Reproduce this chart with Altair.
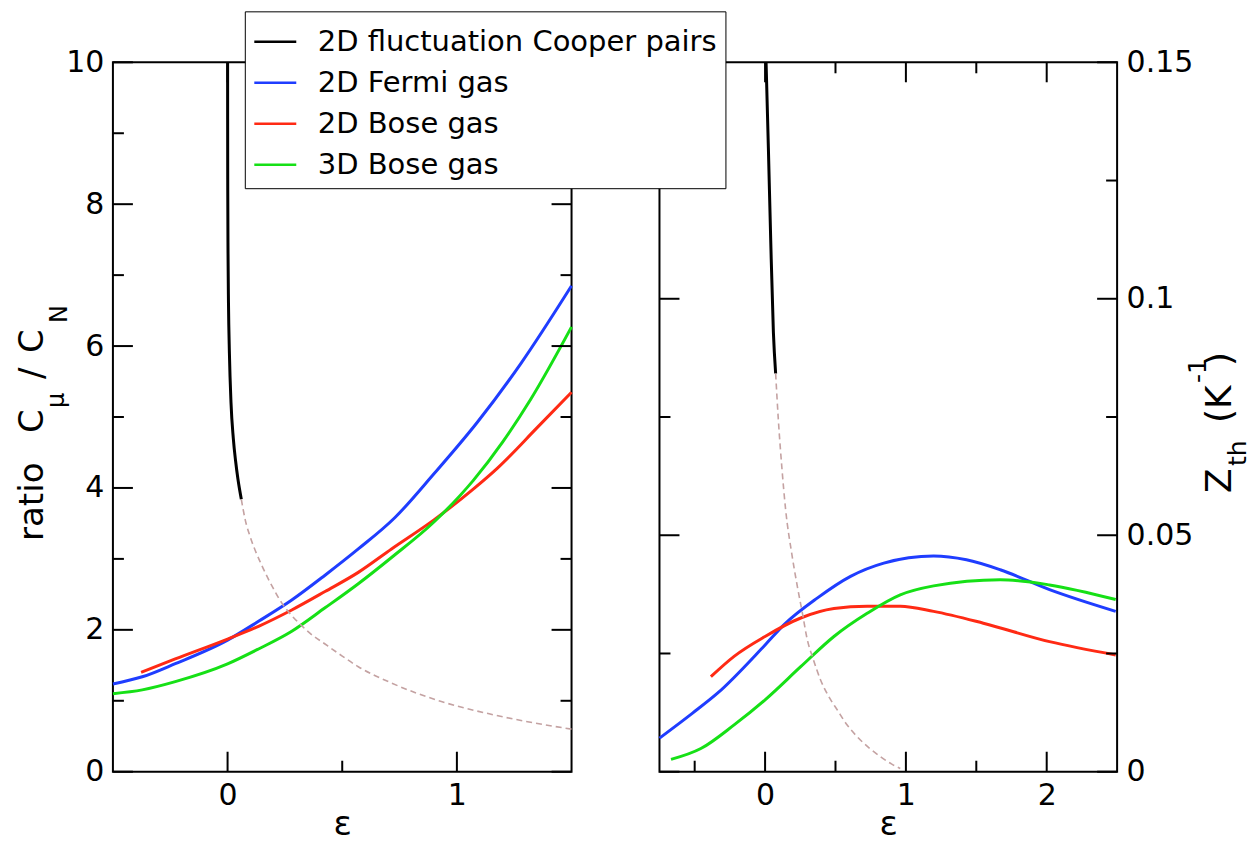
import altair as alt
import pandas as pd

FONT = "DejaVu Sans"
SERIES = ["2D fluctuation Cooper pairs", "2D Fermi gas", "2D Bose gas", "3D Bose gas"]
COLORS = ["#000000", "#1f3dff", "#ff2a14", "#16e016"]
DASH_COLOR = "#c4a2a2"

# ---------------- left panel: ratio C_mu / C_N ----------------
L_COOPER_EPS = [0.00013, 0.0003, 0.0008, 0.002, 0.004, 0.008, 0.015, 0.025, 0.035, 0.045, 0.06]
L_COOPER_VAL = [10.0, 9.2, 8.2, 7.3, 6.6, 5.9, 5.2, 4.7, 4.38, 4.13, 3.84]
L_DASH_EPS = [0.06, 0.077, 0.1, 0.149, 0.2, 0.236, 0.28, 0.316, 0.36, 0.425, 0.5, 0.57, 0.715, 0.932, 1.149, 1.3, 1.5]
L_DASH_VAL = [3.84, 3.55, 3.3, 2.91, 2.58, 2.38, 2.2, 2.08, 1.95, 1.80, 1.63, 1.48, 1.25, 0.99, 0.81, 0.71, 0.60]
L_FERMI2D_EPS = [-0.5, -0.372, -0.228, 0.0, 0.135, 0.28, 0.425, 0.57, 0.729, 0.9, 1.09, 1.278, 1.5]
L_FERMI2D_VAL = [1.237, 1.338, 1.523, 1.855, 2.12, 2.42, 2.77, 3.14, 3.58, 4.2, 4.93, 5.75, 6.85]
L_BOSE2D_EPS = [-0.377, -0.228, 0.0, 0.135, 0.28, 0.425, 0.57, 0.715, 0.9, 1.07, 1.177, 1.35, 1.5]
L_BOSE2D_VAL = [1.40, 1.59, 1.87, 2.05, 2.28, 2.54, 2.81, 3.14, 3.55, 3.98, 4.28, 4.85, 5.35]
L_BOSE3D_EPS = [-0.5, -0.372, -0.228, 0.0, 0.135, 0.28, 0.425, 0.57, 0.715, 0.9, 1.07, 1.2, 1.322, 1.5]
L_BOSE3D_VAL = [1.10, 1.154, 1.27, 1.52, 1.73, 1.98, 2.31, 2.65, 3.02, 3.52, 4.1, 4.65, 5.25, 6.27]

# ---------------- right panel: Z_th (K^-1) ----------------
R_COOPER_EPS = [0.007, 0.0235, 0.04, 0.059, 0.075]
R_COOPER_VAL = [0.15, 0.1318, 0.1124, 0.0929, 0.0842]
R_DASH_EPS = [0.075, 0.094, 0.12, 0.146, 0.19, 0.229, 0.264, 0.3, 0.34, 0.394, 0.45, 0.512, 0.58, 0.654, 0.74, 0.819, 0.9, 0.96]
R_DASH_VAL = [0.0842, 0.0745, 0.064, 0.0554, 0.046, 0.0392, 0.0337, 0.0279, 0.0240, 0.0194, 0.016, 0.0131, 0.0100, 0.0074, 0.0050, 0.0032, 0.0016, 0.0007]
R_FERMI2D_EPS = [-0.75, -0.515, -0.338, 0.0, 0.135, 0.37, 0.607, 0.843, 1.197, 1.43, 1.67, 2.02, 2.49]
R_FERMI2D_VAL = [0.0071, 0.0124, 0.0166, 0.0268, 0.0311, 0.0367, 0.0413, 0.0441, 0.0456, 0.0448, 0.0427, 0.0385, 0.0339]
R_BOSE2D_EPS = [-0.385, -0.22, 0.0, 0.253, 0.489, 0.725, 0.96, 1.197, 1.55, 2.02, 2.49]
R_BOSE2D_VAL = [0.0201, 0.0244, 0.0286, 0.0325, 0.0345, 0.035, 0.035, 0.0339, 0.0314, 0.0275, 0.0247]
R_BOSE3D_EPS = [-0.668, -0.456, -0.22, 0.0, 0.253, 0.489, 0.725, 0.96, 1.197, 1.67, 2.02, 2.49]
R_BOSE3D_VAL = [0.0026, 0.0049, 0.0099, 0.0152, 0.0222, 0.0286, 0.0335, 0.0374, 0.0393, 0.0406, 0.0395, 0.0364]

# axis ticks / labels
L_X_MAJOR = [0, 1]
L_X_MINOR = [0.5]
L_Y_MAJOR = [0, 2, 4, 6, 8, 10]
L_Y_MINOR = [1, 3, 5, 7, 9]
R_X_MAJOR = [0, 1, 2]
R_X_MINOR = [-0.5, 0.5, 1.5]
R_Y_MAJOR = [0, 0.05, 0.1, 0.15]
R_Y_MINOR = [0.025, 0.075, 0.125]

X_TITLE = "ε"
LEFT_TITLE = ["ratio", "C", "μ", "/", "C", "N"]
RIGHT_TITLE = ["Z", "th", "(K", "-1", ")"]

W_L, W_R, H = 459, 458, 710


def long_df(parts):
    frames = []
    for name, xs, ys in parts:
        frames.append(pd.DataFrame({"eps": xs, "val": ys, "series": name}))
    return pd.concat(frames, ignore_index=True)


left_lines = long_df([
    (SERIES[0], L_COOPER_EPS, L_COOPER_VAL),
    (SERIES[1], L_FERMI2D_EPS, L_FERMI2D_VAL),
    (SERIES[2], L_BOSE2D_EPS, L_BOSE2D_VAL),
    (SERIES[3], L_BOSE3D_EPS, L_BOSE3D_VAL),
])
left_dash = pd.DataFrame({"eps": L_DASH_EPS, "val": L_DASH_VAL})
right_lines = long_df([
    (SERIES[0], R_COOPER_EPS, R_COOPER_VAL),
    (SERIES[1], R_FERMI2D_EPS, R_FERMI2D_VAL),
    (SERIES[2], R_BOSE2D_EPS, R_BOSE2D_VAL),
    (SERIES[3], R_BOSE3D_EPS, R_BOSE3D_VAL),
])
right_dash = pd.DataFrame({"eps": R_DASH_EPS, "val": R_DASH_VAL})

LEGEND = alt.Legend(
    orient="none", legendX=132, legendY=-51, title=None,
    symbolType="stroke", symbolStrokeWidth=2.5, symbolSize=1764,
    labelFont=FONT, labelFontSize=29, labelColor="black", labelLimit=0,
    labelOffset=20, padding=8, rowPadding=3,
    strokeColor="black", fillColor="white", cornerRadius=0,
)
COLOR = alt.Color("series:N", scale=alt.Scale(domain=SERIES, range=COLORS), legend=LEGEND)


def tick_layers(xs, ys, xax, yax, xmaj, xmin, ymaj, ymin, W):
    out = []
    for vals, L in [(ymaj, 20), (ymin, 11)]:
        d = pd.DataFrame({"val": vals})
        out.append(alt.Chart(d).mark_rule(color="black", strokeWidth=2).encode(
            y=alt.Y("val:Q", scale=ys, axis=yax), x=alt.value(0), x2=alt.value(L)))
        out.append(alt.Chart(d).mark_rule(color="black", strokeWidth=2).encode(
            y=alt.Y("val:Q", scale=ys, axis=yax), x=alt.value(W), x2=alt.value(W - L)))
    for vals, L in [(xmaj, 20), (xmin, 11)]:
        d = pd.DataFrame({"eps": vals})
        out.append(alt.Chart(d).mark_rule(color="black", strokeWidth=2).encode(
            x=alt.X("eps:Q", scale=xs, axis=xax), y=alt.value(H), y2=alt.value(H - L)))
        out.append(alt.Chart(d).mark_rule(color="black", strokeWidth=2).encode(
            x=alt.X("eps:Q", scale=xs, axis=xax), y=alt.value(0), y2=alt.value(L)))
    return out


def text_piece(txt, x, y, size):
    return alt.Chart(pd.DataFrame({"k": [0]})).mark_text(
        text=txt, angle=270, align="left", baseline="middle",
        font=FONT, fontSize=size, color="black",
    ).encode(x=alt.value(x), y=alt.value(y))


def panel(lines, dash, xdom, ydom, xmaj, xmin, ymaj, ymin, yorient, yfmt, W, texts):
    xs = alt.Scale(domain=xdom, nice=False, zero=False)
    ys = alt.Scale(domain=ydom, nice=False, zero=False)
    xax = alt.Axis(values=xmaj, title=X_TITLE, titleFont=FONT, titleFontSize=34,
                   titlePadding=-3, titleFontWeight="normal")
    yax = alt.Axis(values=ymaj, orient=yorient, title=None, format=yfmt)
    X = alt.X("eps:Q", scale=xs, axis=xax)
    Y = alt.Y("val:Q", scale=ys, axis=yax)
    dash_l = alt.Chart(dash).mark_line(
        color=DASH_COLOR, strokeWidth=1.6, strokeDash=[6, 4], interpolate="monotone"
    ).encode(x=X, y=Y)
    main = alt.Chart(lines).mark_line(strokeWidth=3, interpolate="monotone").encode(
        x=X, y=Y, color=COLOR, order=alt.Order("eps:Q"))
    layers = [main, dash_l] + tick_layers(xs, ys, xax, yax, xmaj, xmin, ymaj, ymin, W)
    layers += [text_piece(t, x, y, s) for (t, x, y, s) in texts]
    return alt.layer(*layers).properties(width=W, height=H)


left_texts = [
    (LEFT_TITLE[0], -80, 479, 34),
    (LEFT_TITLE[1], -80, 371, 34),
    (LEFT_TITLE[2], -56, 346, 24),
    (LEFT_TITLE[3], -80, 317, 34),
    (LEFT_TITLE[4], -80, 291, 34),
    (LEFT_TITLE[5], -53, 261, 24),
]
right_texts = [
    (RIGHT_TITLE[0], W_R + 103, 431, 36),
    (RIGHT_TITLE[1], W_R + 121, 404, 25),
    (RIGHT_TITLE[2], W_R + 103, 361, 36),
    (RIGHT_TITLE[3], W_R + 81, 321, 25),
    (RIGHT_TITLE[4], W_R + 103, 304, 36),
]

left = panel(left_lines, left_dash, [-0.5, 1.5], [0, 10], L_X_MAJOR, L_X_MINOR,
             L_Y_MAJOR, L_Y_MINOR, "left", "d", W_L, left_texts)
right = panel(right_lines, right_dash, [-0.75, 2.5], [0, 0.15], R_X_MAJOR, R_X_MINOR,
              R_Y_MAJOR, R_Y_MINOR, "right", ".2~f", W_R, right_texts)

chart = alt.hconcat(left, right, spacing=88, bounds="flush").resolve_scale(
    x="independent", y="independent", color="shared"
).properties(
    padding={"left": 7, "top": 2, "right": 0, "bottom": 1}, background="white"
).configure_view(
    stroke="black", strokeWidth=2
).configure_axis(
    labelFont=FONT, labelFontSize=30, labelColor="black", labelPadding=9,
    titleColor="black", domain=False, ticks=False, grid=False,
)

chart.save("out.html", embed_options={"renderer": "svg", "actions": False})
